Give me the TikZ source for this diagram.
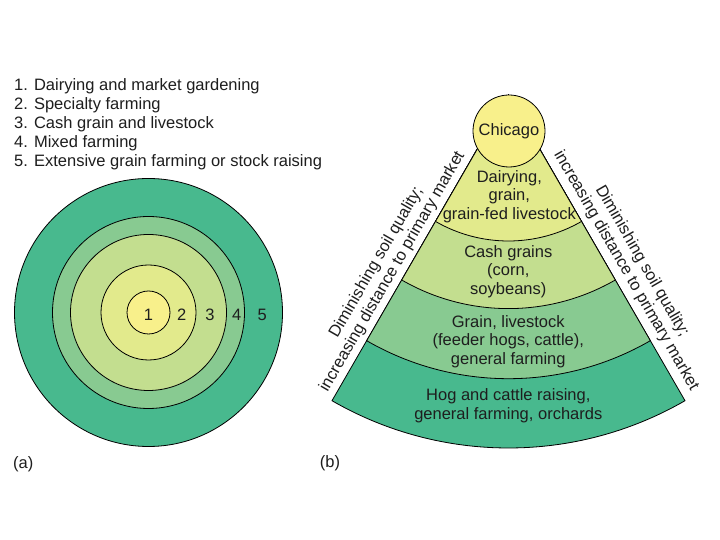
\documentclass[tikz,border=0pt]{standalone}
\usepackage{fontspec}
\setmainfont{Liberation Sans}
\definecolor{cA}{HTML}{F8F08B}
\definecolor{cB}{HTML}{E2EA8C}
\definecolor{cC}{HTML}{C3DE8F}
\definecolor{cD}{HTML}{88CA91}
\definecolor{cE}{HTML}{48B98E}
\definecolor{txt}{HTML}{1E1E1E}
\begin{document}
\begin{tikzpicture}[x=1pt,y=1pt,
  lbl/.style={font=\fontsize{16.5}{18.5}\selectfont, text=txt, inner sep=0pt},
  band/.style={draw=black, line width=0.8pt}]
\useasboundingbox (0,0) rectangle (720,540);
\fill[white] (0,0) rectangle (720,540);

% legend
\node[lbl, anchor=base west] (leg1) at (14,449.3) {1. Dairying and market gardening};
\node[lbl, anchor=base west] (leg2) at (14,430.3) {2. Specialty farming};
\node[lbl, anchor=base west] (leg3) at (14,411.3) {3. Cash grain and livestock};
\node[lbl, anchor=base west] (leg4) at (14,392.3) {4. Mixed farming};
\node[lbl, anchor=base west] (leg5) at (14,373.3) {5. Extensive grain farming or stock raising};

% (a) concentric rings
\coordinate (ca) at (148.5,227.5);
\draw[band, fill=cE] (ca) circle (134pt);
\draw[band, fill=cD] (ca) circle (96pt);
\draw[band, fill=cC] (ca) circle (78pt);
\draw[band, fill=cB] (ca) circle (47.5pt);
\draw[band, fill=cA] (ca) circle (21.5pt);
\node[lbl] (n1) at (148.5,225.5) {1};
\node[lbl] (n2) at (181.7,225.5) {2};
\node[lbl] (n3) at (210,225.5) {3};
\node[lbl] (n4) at (236.7,225.5) {4};
\node[lbl] (n5) at (262.3,225.5) {5};
\node[lbl] (la) at (23.3,75.5) {(a)};

% (b) sector
\coordinate (apex) at (508.5,445);
\draw[band, fill=cE] (apex) -- ++(240:353pt) arc[start angle=240, end angle=300, radius=353pt] -- cycle;
\draw[band, fill=cD] (apex) -- ++(240:283.7pt) arc[start angle=240, end angle=300, radius=283.7pt] -- cycle;
\draw[band, fill=cC] (apex) -- ++(240:213.6pt) arc[start angle=240, end angle=300, radius=213.6pt] -- cycle;
\draw[band, fill=cB] (apex) -- ++(240:146pt) arc[start angle=240, end angle=300, radius=146pt] -- cycle;
\node[lbl, circle, draw=black, line width=0.8pt, fill=cA, minimum size=72pt] (chicago) at (509,409) {Chicago};

\node[lbl, align=center] (z1) at (509.3,343.3) {Dairying,\\grain,\\grain-fed livestock};
\node[lbl, align=center] (z2) at (508.3,268.3) {Cash grains\\(corn,\\soybeans)};
\node[lbl, align=center] (z3) at (508.3,198.3) {Grain, livestock\\(feeder hogs, cattle),\\general farming};
\node[lbl, align=center] (z4) at (508.3,134.2) {Hog and cattle raising,\\general farming, orchards};

\node[lbl, align=center, rotate=60] (sideL) at (384.5,273) {Diminishing soil quality;\\increasing distance to primary market};
\node[lbl, align=center, rotate=-60] (sideR) at (634,274) {Diminishing soil quality;\\increasing distance to primary market};
\node[lbl] (lb) at (330,76.7) {(b)};
\end{tikzpicture}
\end{document}
